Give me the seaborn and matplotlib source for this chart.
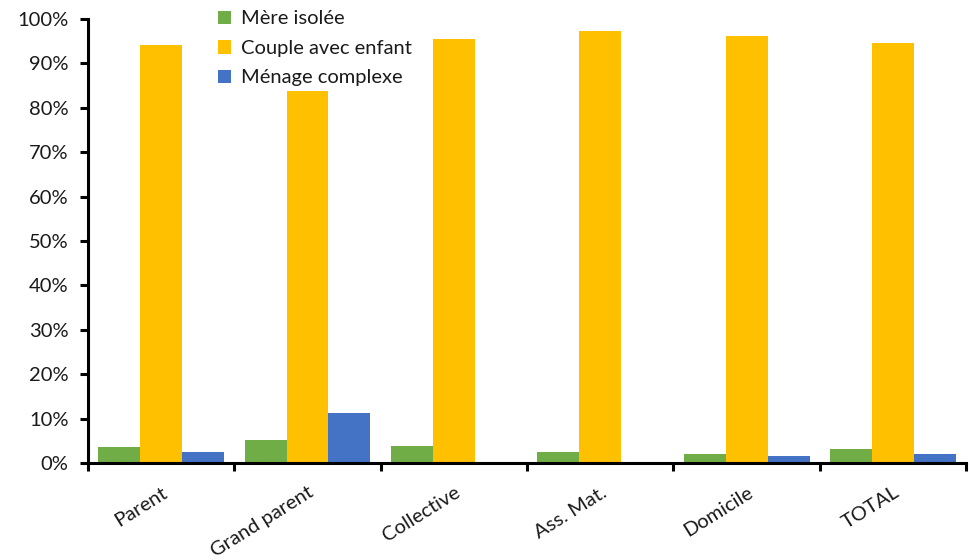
import matplotlib
matplotlib.use("Agg")
import matplotlib.pyplot as plt
from matplotlib.ticker import FixedLocator, PercentFormatter
import seaborn as sns
import pandas as pd

# Share of children by family situation, per childcare mode (%)
modes = ["Parent", "Grand parent", "Collective", "Ass. Mat.", "Domicile", "TOTAL"]
mere_isolee = [3.5, 5.2, 3.8, 2.4, 2.0, 3.2]
couple_enfant = [94.1, 83.8, 95.6, 97.4, 96.2, 94.7]
menage_complexe = [2.4, 11.3, 0.0, 0.0, 1.5, 2.0]

series = ["Mère isolée", "Couple avec enfant", "Ménage complexe"]
colors = ["#70AD47", "#FFC000", "#4472C4"]

df = pd.DataFrame({
    "mode": modes * 3,
    "situation": [series[0]] * 6 + [series[1]] * 6 + [series[2]] * 6,
    "value": mere_isolee + couple_enfant + menage_complexe,
})

sns.set_theme(style="white")
plt.rcParams["font.family"] = ["Lato", "DejaVu Sans"]

fig = plt.figure(figsize=(9.7, 5.6), dpi=100)
ax = fig.add_axes([0.0907, 0.1732, 0.9053, 0.7928])

sns.barplot(data=df, x="mode", y="value", hue="situation", order=modes,
            hue_order=series, palette=colors, width=0.86, linewidth=0,
            saturation=1, ax=ax)

ax.set_xlim(-0.5, len(modes) - 0.5)
ax.set_ylim(0, 100)
ax.yaxis.set_major_locator(FixedLocator(range(0, 101, 10)))
ax.yaxis.set_major_formatter(PercentFormatter(decimals=0))
ax.set_xlabel("")
ax.set_ylabel("")

for side in ["top", "right"]:
    ax.spines[side].set_visible(False)
for side in ["left", "bottom"]:
    ax.spines[side].set_color("black")
    ax.spines[side].set_linewidth(2.2)

# Category labels centred, tick marks between groups
ax.set_xticks(range(len(modes)))
ax.set_xticklabels(modes, rotation=32, ha="right", rotation_mode="anchor")
ax.set_xticks([i - 0.5 for i in range(len(modes) + 1)], minor=True)
ax.tick_params(axis="x", which="major", length=0, pad=15, labelsize=14.5,
               labelcolor="#1a1a1a")
ax.tick_params(axis="x", which="minor", direction="out", length=6, width=2.2,
               color="black", bottom=True)
ax.tick_params(axis="y", direction="out", length=6, width=2.2, color="black",
               left=True, labelsize=14.5, labelcolor="#1a1a1a", pad=8)

handles, labels = ax.get_legend_handles_labels()
ax.legend(handles, labels, loc="upper left", bbox_to_anchor=(0.212, 1.003),
          bbox_transform=fig.transFigure, frameon=False, fontsize=14.5,
          handlelength=0.65, handleheight=0.65, handletextpad=0.5,
          labelspacing=0.62, borderaxespad=0.2, labelcolor="#1a1a1a")

fig.savefig("out.png", dpi=100)
